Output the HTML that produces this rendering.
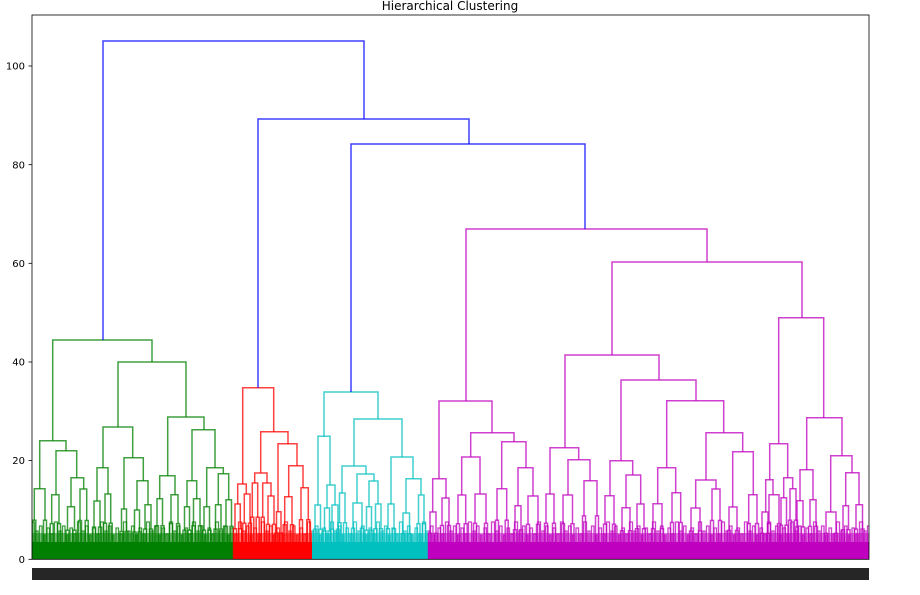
<!DOCTYPE html>
<html><head><meta charset="utf-8">
<style>
html,body{margin:0;padding:0;background:#fff;}
svg{display:block;}
text{font-family:"DejaVu Sans","Liberation Sans",sans-serif;}
</style></head>
<body>
<svg width="920" height="595" viewBox="0 0 920 595" xmlns="http://www.w3.org/2000/svg">
<defs>
<pattern id="pG" patternUnits="userSpaceOnUse" x="0" y="516" width="23" height="26">
<g fill="none" stroke="#008000" stroke-opacity="0.75" stroke-width="1.3">
<path d="M1 26V12H3.5V26"/><path d="M5 26V18H7V26"/><path d="M8.5 26V6H11.5V26"/><path d="M13 26V15H15V26"/><path d="M16.5 26V10H19V26"/><path d="M20.5 26V19H22V26"/>
</g></pattern>
<pattern id="pR" patternUnits="userSpaceOnUse" x="0" y="516" width="23" height="26">
<g fill="none" stroke="#ff0000" stroke-opacity="0.75" stroke-width="1.3">
<path d="M1 26V12H3.5V26"/><path d="M5 26V18H7V26"/><path d="M8.5 26V6H11.5V26"/><path d="M13 26V15H15V26"/><path d="M16.5 26V10H19V26"/><path d="M20.5 26V19H22V26"/>
</g></pattern>
<pattern id="pC" patternUnits="userSpaceOnUse" x="0" y="516" width="23" height="26">
<g fill="none" stroke="#00bfbf" stroke-opacity="0.75" stroke-width="1.3">
<path d="M1 26V12H3.5V26"/><path d="M5 26V18H7V26"/><path d="M8.5 26V6H11.5V26"/><path d="M13 26V15H15V26"/><path d="M16.5 26V10H19V26"/><path d="M20.5 26V19H22V26"/>
</g></pattern>
<pattern id="pM" patternUnits="userSpaceOnUse" x="0" y="516" width="23" height="26">
<g fill="none" stroke="#bf00bf" stroke-opacity="0.75" stroke-width="1.3">
<path d="M1 26V12H3.5V26"/><path d="M5 26V18H7V26"/><path d="M8.5 26V6H11.5V26"/><path d="M13 26V15H15V26"/><path d="M16.5 26V10H19V26"/><path d="M20.5 26V19H22V26"/>
</g></pattern>
</defs>
<rect width="920" height="595" fill="#fff"/>
<text x="450" y="10" font-size="12" text-anchor="middle" fill="#000">Hierarchical Clustering</text>

<!-- dense bottom bands -->
<rect x="32" y="516" width="201" height="26" fill="url(#pG)"/>
<rect x="233" y="516" width="79" height="26" fill="url(#pR)"/>
<rect x="312" y="516" width="116" height="26" fill="url(#pC)"/>
<rect x="428" y="516" width="441" height="26" fill="url(#pM)"/>
<rect x="32" y="533" width="201" height="9" fill="#008000" fill-opacity="0.5"/>
<rect x="233" y="533" width="79" height="9" fill="#ff0000" fill-opacity="0.5"/>
<rect x="312" y="533" width="116" height="9" fill="#00bfbf" fill-opacity="0.5"/>
<rect x="428" y="533" width="441" height="9" fill="#bf00bf" fill-opacity="0.5"/>
<rect x="32" y="542" width="201" height="17.3" fill="#008000"/>
<rect x="233" y="542" width="79" height="17.3" fill="#ff0000"/>
<rect x="312" y="542" width="116" height="17.3" fill="#00bfbf"/>
<rect x="428" y="542" width="441" height="17.3" fill="#bf00bf"/>

<g fill="none" stroke-width="1.5" stroke-opacity="0.75">
<g stroke="#008000">
<path d="M52.7 440.7V340H152V362"/>
<path d="M39.7 488.7V440.7H66V450.7"/>
<path d="M34.3 520.3V488.7H45V520.3"/><path d="M32.8 559V520.3H35.8V559"/><path d="M43.5 559V520.3H46.5V559"/>
<path d="M56 494.7V450.7H76.7V477.7"/>
<path d="M51.7 523.6V494.7H59V523.6"/><path d="M50.2 559V523.6H53.2V559"/><path d="M57.5 559V523.6H60.5V559"/>
<path d="M71 506.7V477.7H83.7V489"/>
<path d="M67.5 530.2V506.7H74.5V530.2"/><path d="M66 559V530.2H69V559"/><path d="M73 559V530.2H76V559"/>
<path d="M80 520.5V489H86.7V520.5"/><path d="M78.5 559V520.5H81.5V559"/><path d="M85.2 559V520.5H88.2V559"/>
<path d="M118 427V362H186V417"/>
<path d="M103 467.7V427H132.7V457.7"/>
<path d="M97 501V467.7H108V494"/>
<path d="M94 527.1V501H100V527.1"/><path d="M92.5 559V527.1H95.5V559"/><path d="M98.5 559V527.1H101.5V559"/>
<path d="M105 523.3V494H110.7V523.3"/><path d="M103.5 559V523.3H106.5V559"/><path d="M109.2 559V523.3H112.2V559"/>
<path d="M124 509V457.7H143.3V480.7"/>
<path d="M121.5 531.5V509H126.5V531.5"/><path d="M120 559V531.5H123V559"/><path d="M125 559V531.5H128V559"/>
<path d="M137 510V480.7H148V504.7"/>
<path d="M134.5 532V510H139.5V532"/><path d="M133 559V532H136V559"/><path d="M138 559V532H141V559"/>
<path d="M145 529.1V504.7H151V529.1"/><path d="M143.5 559V529.1H146.5V559"/><path d="M149.5 559V529.1H152.5V559"/>
<path d="M167.7 475.7V417H204V429.7"/>
<path d="M159.7 498.7V475.7H175V494.7"/>
<path d="M157 525.8V498.7H162.5V525.8"/><path d="M155.5 559V525.8H158.5V559"/><path d="M161 559V525.8H164V559"/>
<path d="M171 523.6V494.7H178V523.6"/><path d="M169.5 559V523.6H172.5V559"/><path d="M176.5 559V523.6H179.5V559"/>
<path d="M192 480.7V429.7H215V467.7"/>
<path d="M187 506.7V480.7H196.7V498.7"/>
<path d="M184.5 530.2V506.7H189.5V530.2"/><path d="M183 559V530.2H186V559"/><path d="M188 559V530.2H191V559"/>
<path d="M193.5 525.8V498.7H200V525.8"/><path d="M192 559V525.8H195V559"/><path d="M198.5 559V525.8H201.5V559"/>
<path d="M206.7 506.7V467.7H223.3V473.7"/>
<path d="M204 530.2V506.7H209.5V530.2"/><path d="M202.5 559V530.2H205.5V559"/><path d="M208 559V530.2H211V559"/>
<path d="M218.3 504.7V473.7H228.7V499.7"/>
<path d="M215.5 529.1V504.7H221V529.1"/><path d="M214 559V529.1H217V559"/><path d="M219.5 559V529.1H222.5V559"/>
<path d="M226 526.4V499.7H231.5V526.4"/><path d="M224.5 559V526.4H227.5V559"/><path d="M230 559V526.4H233V559"/>
</g>
<g stroke="#ff0000">
<path d="M242.7 484V387.7H273.7V431.7"/>
<path d="M237.7 504V484H246.3V494"/>
<path d="M235 528.8V504H240.3V528.8"/><path d="M233.5 559V528.8H236.5V559"/><path d="M238.8 559V528.8H241.8V559"/>
<path d="M244.3 523.3V494H250V523.3"/><path d="M242.8 559V523.3H245.8V559"/><path d="M248.5 559V523.3H251.5V559"/>
<path d="M260.7 473V431.7H288V443.7"/>
<path d="M254.7 483V473H267V483"/>
<path d="M252.3 517.2V483H257.7V517.2"/><path d="M250.8 559V517.2H253.8V559"/><path d="M256.2 559V517.2H259.2V559"/>
<path d="M262.7 517.2V483H271V496"/><path d="M261.2 559V517.2H264.2V559"/>
<path d="M268 524.4V496H274V524.4"/><path d="M266.5 559V524.4H269.5V559"/><path d="M272.5 559V524.4H275.5V559"/>
<path d="M278 511.7V443.7H297V465.7"/>
<path d="M276.5 533V511.7H281V533"/><path d="M275 559V533H278V559"/><path d="M279.5 559V533H282.5V559"/>
<path d="M288.7 496.7V465.7H303V487.7"/>
<path d="M284.7 524.7V496.7H292V524.7"/><path d="M283.2 559V524.7H286.2V559"/><path d="M290.5 559V524.7H293.5V559"/>
<path d="M301 519.7V487.7H308.3V519.7"/><path d="M299.5 559V519.7H302.5V559"/><path d="M306.8 559V519.7H309.8V559"/>
</g>
<g stroke="#00bfbf">
<path d="M324 436.3V392H378V419"/>
<path d="M318 505V436.3H330V485"/>
<path d="M315 529.3V505H320.5V529.3"/><path d="M313.5 559V529.3H316.5V559"/><path d="M319 559V529.3H322V559"/>
<path d="M327 508V485H335V505"/>
<path d="M324.5 531V508H329.5V531"/><path d="M323 559V531H326V559"/><path d="M328 559V531H331V559"/>
<path d="M332 529.3V505H338V529.3"/><path d="M330.5 559V529.3H333.5V559"/><path d="M336.5 559V529.3H339.5V559"/>
<path d="M354 466V419H402V457"/>
<path d="M342 493V466H366V474"/>
<path d="M339.5 522.7V493H345V522.7"/><path d="M338 559V522.7H341V559"/><path d="M343.5 559V522.7H346.5V559"/>
<path d="M357 503V474H374V481"/>
<path d="M353 528.2V503H362V528.2"/><path d="M351.5 559V528.2H354.5V559"/><path d="M360.5 559V528.2H363.5V559"/>
<path d="M369 506.7V481H378V504"/>
<path d="M366.5 530.2V506.7H371.5V530.2"/><path d="M365 559V530.2H368V559"/><path d="M370 559V530.2H373V559"/>
<path d="M375.5 528.8V504H381V528.8"/><path d="M374 559V528.8H377V559"/><path d="M379.5 559V528.8H382.5V559"/>
<path d="M391 504V457H413V478.7"/>
<path d="M388 528.8V504H394V528.8"/><path d="M386.5 559V528.8H389.5V559"/><path d="M392.5 559V528.8H395.5V559"/>
<path d="M406 513V478.7H421V495"/>
<path d="M403 533.7V513H409.5V533.7"/><path d="M401.5 559V533.7H404.5V559"/><path d="M408 559V533.7H411V559"/>
<path d="M418.5 523.8V495H424V523.8"/><path d="M417 559V523.8H420V559"/><path d="M422.5 559V523.8H425.5V559"/>
</g>
<g stroke="#bf00bf">
<path d="M466 401V229H707V262"/>
<path d="M439 478.7V401H492V432.7"/>
<path d="M432.7 512V478.7H446V498"/>
<path d="M430 533.2V512H436V533.2"/><path d="M428.5 559V533.2H431.5V559"/><path d="M434.5 559V533.2H437.5V559"/>
<path d="M442 525.5V498H449V525.5"/><path d="M440.5 559V525.5H443.5V559"/><path d="M447.5 559V525.5H450.5V559"/>
<path d="M470.7 457V432.7H514V441.7"/>
<path d="M461.7 495V457H480V494"/>
<path d="M458 523.8V495H465.7V523.8"/><path d="M456.5 559V523.8H459.5V559"/><path d="M464.2 559V523.8H467.2V559"/>
<path d="M475 523.3V494H486V523.3"/><path d="M473.5 559V523.3H476.5V559"/><path d="M484.5 559V523.3H487.5V559"/>
<path d="M501.7 488.7V441.7H526V467.7"/>
<path d="M497 520.3V488.7H506.7V520.3"/><path d="M495.5 559V520.3H498.5V559"/><path d="M505.2 559V520.3H508.2V559"/>
<path d="M518 505.7V467.7H533V496"/>
<path d="M515 529.7V505.7H521V529.7"/><path d="M513.5 559V529.7H516.5V559"/><path d="M519.5 559V529.7H522.5V559"/>
<path d="M528 524.4V496H538V524.4"/><path d="M526.5 559V524.4H529.5V559"/><path d="M536.5 559V524.4H539.5V559"/>
<path d="M612 355V262H802V317.7"/>
<path d="M565 447.7V355H659V380"/>
<path d="M550 494V447.7H578.7V459.7"/>
<path d="M546 523.3V494H554V523.3"/><path d="M544.5 559V523.3H547.5V559"/><path d="M552.5 559V523.3H555.5V559"/>
<path d="M568 495V459.7H590V480.7"/>
<path d="M563 523.8V495H572.5V523.8"/><path d="M561.5 559V523.8H564.5V559"/><path d="M571 559V523.8H574V559"/>
<path d="M584 515.9V480.7H597V515.9"/><path d="M582.5 559V515.9H585.5V559"/><path d="M595.5 559V515.9H598.5V559"/>
<path d="M621 460.7V380H696V400.7"/>
<path d="M610 495.7V460.7H632.7V475"/>
<path d="M605 524.2V495.7H614V524.2"/><path d="M603.5 559V524.2H606.5V559"/><path d="M612.5 559V524.2H615.5V559"/>
<path d="M626 507.7V475H640.7V504"/>
<path d="M622 530.8V507.7H630V530.8"/><path d="M620.5 559V530.8H623.5V559"/><path d="M628.5 559V530.8H631.5V559"/>
<path d="M637 528.8V504H644V528.8"/><path d="M635.5 559V528.8H638.5V559"/><path d="M642.5 559V528.8H645.5V559"/>
<path d="M666.7 467.7V400.7H723.7V432.7"/>
<path d="M657.7 503.7V467.7H675.7V492.7"/>
<path d="M653 528.6V503.7H662V528.6"/><path d="M651.5 559V528.6H654.5V559"/><path d="M660.5 559V528.6H663.5V559"/>
<path d="M672 522.5V492.7H680.7V522.5"/><path d="M670.5 559V522.5H673.5V559"/><path d="M679.2 559V522.5H682.2V559"/>
<path d="M706 480V432.7H742.7V451.7"/>
<path d="M695.7 508V480H716V489"/>
<path d="M691 531V508H700V531"/><path d="M689.5 559V531H692.5V559"/><path d="M698.5 559V531H701.5V559"/>
<path d="M712 520.5V489H720V520.5"/><path d="M710.5 559V520.5H713.5V559"/><path d="M718.5 559V520.5H721.5V559"/>
<path d="M732.7 507V451.7H753.3V494.7"/>
<path d="M729 530.4V507H737V530.4"/><path d="M727.5 559V530.4H730.5V559"/><path d="M735.5 559V530.4H738.5V559"/>
<path d="M748.7 523.6V494.7H757V523.6"/><path d="M747.2 559V523.6H750.2V559"/><path d="M755.5 559V523.6H758.5V559"/>
<path d="M778.7 443.7V317.7H823.7V417.7"/>
<path d="M769.7 479.7V443.7H787.7V477.7"/>
<path d="M765.7 512V479.7H773V494.7"/>
<path d="M762 533.2V512H768V533.2"/><path d="M760.5 559V533.2H763.5V559"/><path d="M766.5 559V533.2H769.5V559"/>
<path d="M769 523.6V494.7H779V523.6"/><path d="M767.5 559V523.6H770.5V559"/><path d="M777.5 559V523.6H780.5V559"/>
<path d="M783.7 497.7V477.7H792.7V488.7"/>
<path d="M781 525.3V497.7H786.5V525.3"/><path d="M779.5 559V525.3H782.5V559"/><path d="M785 559V525.3H788V559"/>
<path d="M790 520.3V488.7H796V520.3"/><path d="M788.5 559V520.3H791.5V559"/><path d="M794.5 559V520.3H797.5V559"/>
<path d="M806.7 469.7V417.7H842V455.7"/>
<path d="M800 500.7V469.7H813V499.7"/>
<path d="M797 527V500.7H803V527"/><path d="M795.5 559V527H798.5V559"/><path d="M801.5 559V527H804.5V559"/>
<path d="M810 526.4V499.7H816V526.4"/><path d="M808.5 559V526.4H811.5V559"/><path d="M814.5 559V526.4H817.5V559"/>
<path d="M830.7 512V455.7H852V472.7"/>
<path d="M826 533.2V512H836V533.2"/><path d="M824.5 559V533.2H827.5V559"/><path d="M834.5 559V533.2H837.5V559"/>
<path d="M845.7 505.7V472.7H859V504.7"/>
<path d="M843 529.7V505.7H848.5V529.7"/><path d="M841.5 559V529.7H844.5V559"/><path d="M847 559V529.7H850V559"/>
<path d="M856 529.1V504.7H862.5V529.1"/><path d="M854.5 559V529.1H857.5V559"/><path d="M861 559V529.1H864V559"/>
</g>
<g stroke="#0000ff">
<path d="M103 340V41H364V119"/>
<path d="M258 387.7V119H469V144"/>
<path d="M351 392V144H585V229"/>
</g>
</g>

<rect x="32" y="15" width="837" height="544.3" fill="none" stroke="#000" stroke-width="0.8"/>
<g stroke="#000" stroke-width="0.8">
<line x1="28.5" y1="559.3" x2="32" y2="559.3"/>
<line x1="28.5" y1="460.6" x2="32" y2="460.6"/>
<line x1="28.5" y1="362" x2="32" y2="362"/>
<line x1="28.5" y1="263.3" x2="32" y2="263.3"/>
<line x1="28.5" y1="164.7" x2="32" y2="164.7"/>
<line x1="28.5" y1="66" x2="32" y2="66"/>
</g>
<g font-size="10" text-anchor="end" fill="#000">
<text x="25" y="562.9">0</text>
<text x="25" y="464.2">20</text>
<text x="25" y="365.6">40</text>
<text x="25" y="266.9">60</text>
<text x="25" y="168.3">80</text>
<text x="25" y="69.6">100</text>
</g>
<rect x="32" y="568" width="837" height="12" fill="#262626"/>
</svg>
</body></html>
